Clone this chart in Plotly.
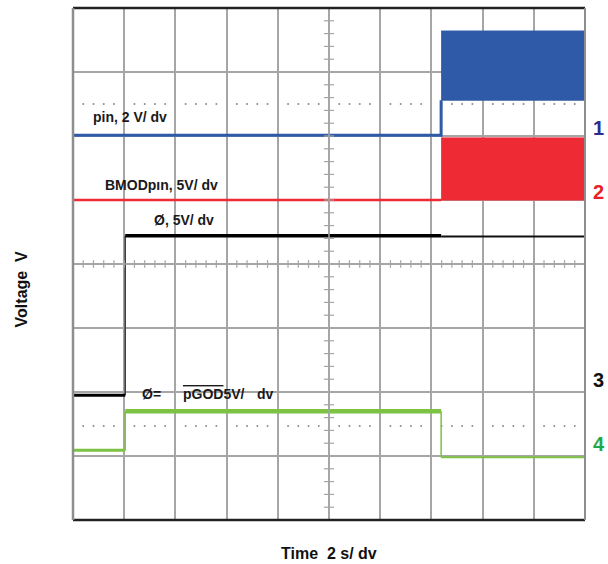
import plotly.graph_objects as go

# Screen geometry: 10 horizontal divisions, 8 vertical divisions
X_DIVS = 10
Y_DIVS = 8
SEC_PER_DIV = 2.0
X_MAX = X_DIVS * SEC_PER_DIV

# Event times (s)
t_enable = 2.04
t_switch = 14.38

# Channel 1 (Vin, 2 V/div) - trace levels in screen divisions
ch1_t = [0.0, t_switch, t_switch]
ch1_y = [6.01, 6.01, 6.56]
ch1_band_t = [t_switch, X_MAX, X_MAX, t_switch]
ch1_band_y = [7.64, 7.64, 6.56, 6.56]

# Channel 2 (EN/MODE pin, 5 V/div)
ch2_t = [0.0, t_switch]
ch2_y = [5.0, 5.0]
ch2_band_t = [t_switch, X_MAX, X_MAX, t_switch]
ch2_band_y = [5.97, 5.97, 5.0, 5.0]

# Channel 3 (5 V/div)
ch3_low_t = [0.0, t_enable]
ch3_low_y = [1.95, 1.95]
ch3_edge_t = [t_enable, t_enable]
ch3_edge_y = [1.95, 4.44]
ch3_high_t = [t_enable, t_switch]
ch3_high_y = [4.44, 4.44]
ch3_tail_t = [t_switch, X_MAX]
ch3_tail_y = [4.43, 4.43]

# Channel 4 (PGOOD, 5 V/div)
ch4_low_t = [0.0, t_enable]
ch4_low_y = [1.09, 1.09]
ch4_rise_t = [t_enable, t_enable]
ch4_rise_y = [1.09, 1.70]
ch4_high_t = [t_enable, t_switch]
ch4_high_y = [1.70, 1.70]
ch4_fall_t = [t_switch, t_switch]
ch4_fall_y = [1.70, 0.98]
ch4_tail_t = [t_switch, X_MAX]
ch4_tail_y = [0.98, 0.98]

# Dotted reference rows (screen divisions)
ref_rows = [6.5, 1.47]

# Channel labels
ch_labels = ["pin, 2 V/ dv", "BMODpın, 5V/ dv", "Ø, 5V/ dv", "Ø="]
ch_label_pos = [(0.7, 6.3), (1.18, 5.23), (3.08, 4.69), (2.6, 1.97)]
marker_text = ["1", "2", "3", "4"]
marker_level = [6.12, 5.12, 2.19, 1.19]
marker_color = ["#2B2E8C", "#E8202A", "#111111", "#1FA84A"]

BLUE = "#2F5AA8"
RED = "#EE2A35"
GREEN = "#7CC243"
GRID = "#A6A6A6"

fig = go.Figure()

def seg(t, y, color, width):
    fig.add_trace(go.Scatter(x=t, y=y, mode="lines", hoverinfo="skip",
                             line=dict(color=color, width=width), showlegend=False))

# Dotted reference rows: dots at minor positions, skipping major gridlines
dot_x = [i * SEC_PER_DIV / 5 for i in range(1, X_DIVS * 5) if i % 5 != 0]
for r in ref_rows:
    fig.add_trace(go.Scatter(x=dot_x, y=[r] * len(dot_x), mode="markers", hoverinfo="skip",
                             marker=dict(color="#8C8C8C", size=2), showlegend=False))

# Center graticule axes with minor ticks
shapes = []
cx = X_MAX / 2
cy = Y_DIVS / 2
shapes.append(dict(type="line", xref="x", yref="y", x0=0, x1=X_MAX, y0=cy, y1=cy,
                   line=dict(color=GRID, width=1.5)))
shapes.append(dict(type="line", xref="x", yref="y", x0=cx, x1=cx, y0=0, y1=Y_DIVS,
                   line=dict(color=GRID, width=1.5)))
for i in range(1, X_DIVS * 5):
    xt = i * SEC_PER_DIV / 5
    shapes.append(dict(type="line", xref="x", yref="y", x0=xt, x1=xt,
                       y0=cy - 0.06, y1=cy + 0.06, line=dict(color=GRID, width=1.2)))
for i in range(1, Y_DIVS * 5):
    yt = i / 5
    shapes.append(dict(type="line", xref="x", yref="y", x0=cx - 0.2, x1=cx + 0.2,
                       y0=yt, y1=yt, line=dict(color=GRID, width=1.2)))

# Channel 1
fig.add_trace(go.Scatter(x=ch1_band_t, y=ch1_band_y, mode="lines", fill="toself",
                         fillcolor=BLUE, line=dict(color=BLUE, width=1),
                         hoverinfo="skip", showlegend=False))
seg(ch1_t, ch1_y, BLUE, 3)

# Channel 2
fig.add_trace(go.Scatter(x=ch2_band_t, y=ch2_band_y, mode="lines", fill="toself",
                         fillcolor=RED, line=dict(color=RED, width=1),
                         hoverinfo="skip", showlegend=False))
seg(ch2_t, ch2_y, RED, 2.5)

# Channel 3
seg(ch3_edge_t, ch3_edge_y, "#3A3A3A", 1.5)
seg(ch3_low_t, ch3_low_y, "#000000", 3)
seg(ch3_high_t, ch3_high_y, "#000000", 3.5)
seg(ch3_tail_t, ch3_tail_y, "#111111", 2)

# Channel 4
seg(ch4_rise_t, ch4_rise_y, GREEN, 1.5)
seg(ch4_fall_t, ch4_fall_y, GREEN, 1.5)
seg(ch4_low_t, ch4_low_y, GREEN, 3)
seg(ch4_high_t, ch4_high_y, GREEN, 4.5)
seg(ch4_tail_t, ch4_tail_y, GREEN, 2)

# Screen border
shapes.append(dict(type="line", xref="paper", yref="paper", x0=0, x1=1, y0=1, y1=1,
                   line=dict(color="#222222", width=2.5)))
shapes.append(dict(type="line", xref="paper", yref="paper", x0=0, x1=1, y0=0, y1=0,
                   line=dict(color="#222222", width=2.5)))
shapes.append(dict(type="line", xref="paper", yref="paper", x0=0, x1=0, y0=0, y1=1,
                   line=dict(color="#8E8E8E", width=2.5)))
shapes.append(dict(type="line", xref="paper", yref="paper", x0=1, x1=1, y0=0, y1=1,
                   line=dict(color="#8E8E8E", width=2)))

LABEL_FONT = dict(family="Liberation Sans, Arial, sans-serif", size=14, color="#1A1A1A")
annotations = []
for txt, (lx, ly) in zip(ch_labels, ch_label_pos):
    annotations.append(dict(x=lx, y=ly, xref="x", yref="y", text="<b>" + txt + "</b>",
                            showarrow=False, xanchor="left", yanchor="middle",
                            font=LABEL_FONT))
# PGOOD label with overline
annotations.append(dict(x=4.2, y=1.97, xref="x", yref="y",
                        text="<b><span style='text-decoration:overline'>pGOD</span>5V/</b>",
                        showarrow=False, xanchor="left", yanchor="middle", font=LABEL_FONT))
annotations.append(dict(x=7.12, y=1.97, xref="x", yref="y", text="<b>dv</b>",
                        showarrow=False, xanchor="left", yanchor="middle", font=LABEL_FONT))

for txt, lvl, col in zip(marker_text, marker_level, marker_color):
    annotations.append(dict(x=1.0, y=lvl / Y_DIVS, xref="paper", yref="paper",
                            text="<b>" + txt + "</b>", showarrow=False,
                            xanchor="left", yanchor="middle", xshift=6,
                            font=dict(family="Liberation Sans, Arial, sans-serif",
                                      size=20, color=col)))

# Axis titles
annotations.append(dict(x=0.5, y=-0.065, xref="paper", yref="paper",
                        text="<b>Time  2 s/ dv</b>", showarrow=False,
                        xanchor="center", yanchor="middle",
                        font=dict(family="Liberation Sans, Arial, sans-serif", size=16,
                                  color="#111111")))
annotations.append(dict(x=-0.1, y=0.45, xref="paper", yref="paper",
                        text="<b>Voltage  V</b>", showarrow=False, textangle=-90,
                        xanchor="center", yanchor="middle",
                        font=dict(family="Liberation Sans, Arial, sans-serif", size=16,
                                  color="#111111")))

fig.update_layout(
    width=608, height=564,
    margin=dict(l=73, r=23, t=8, b=44),
    paper_bgcolor="white", plot_bgcolor="white",
    shapes=shapes, annotations=annotations,
    xaxis=dict(range=[0, X_MAX], dtick=SEC_PER_DIV, showgrid=True, gridcolor=GRID,
               gridwidth=1.5, zeroline=False, showticklabels=False, ticks="",
               fixedrange=True),
    yaxis=dict(range=[0, Y_DIVS], dtick=1, showgrid=True, gridcolor=GRID,
               gridwidth=1.5, zeroline=False, showticklabels=False, ticks="",
               fixedrange=True),
)

fig.write_html("out.html")
